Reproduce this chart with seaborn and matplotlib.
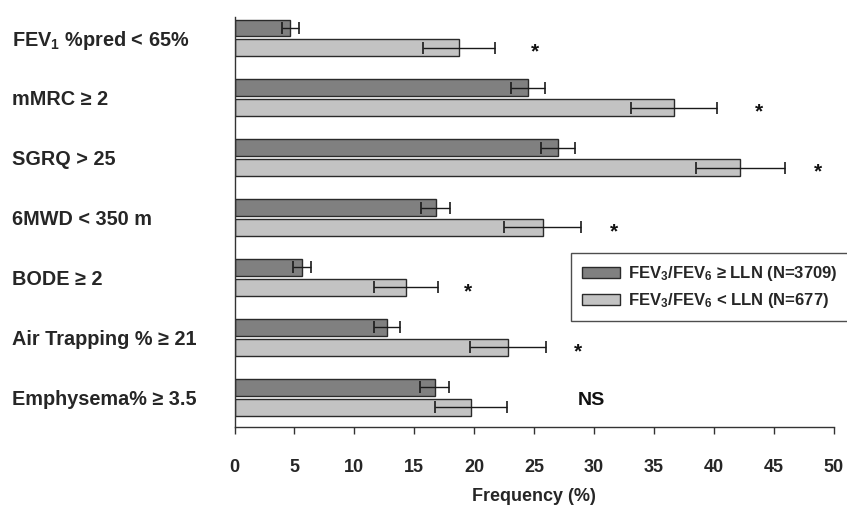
import matplotlib
matplotlib.use("Agg")
import matplotlib.pyplot as plt
from matplotlib.patches import Patch
import seaborn as sns
import pandas as pd
import numpy as np

categories = ["FEV$_1$ %pred < 65%", "mMRC ≥ 2", "SGRQ > 25", "6MWD < 350 m",
              "BODE ≥ 2", "Air Trapping % ≥ 21", "Emphysema% ≥ 3.5"]
groups = ["FEV$_3$/FEV$_6$ ≥ LLN (N=3709)", "FEV$_3$/FEV$_6$ < LLN (N=677)"]
normal_vals = [4.65, 24.5, 27.0, 16.8, 5.6, 12.7, 16.7]
normal_err = [0.7, 1.4, 1.45, 1.2, 0.75, 1.1, 1.2]
low_vals = [18.7, 36.7, 42.2, 25.7, 14.3, 22.8, 19.7]
low_err = [3.0, 3.6, 3.7, 3.25, 2.7, 3.15, 3.0]
annotations = ["*", "*", "*", "*", "*", "*", "NS"]
annot_x = [25.1, 43.8, 48.7, 31.7, 19.5, 28.7, 29.8]

sns.set_theme(style="ticks")
plt.rcParams["font.family"] = ["Liberation Sans", "DejaVu Sans"]
plt.rcParams["mathtext.fontset"] = "custom"
plt.rcParams["mathtext.rm"] = "Liberation Sans:bold"
plt.rcParams["mathtext.it"] = "Liberation Sans:bold"
plt.rcParams["mathtext.bf"] = "Liberation Sans:bold"

df = pd.DataFrame({
    "category": categories * 2,
    "group": [groups[0]] * len(categories) + [groups[1]] * len(categories),
    "value": normal_vals + low_vals,
})
errs = {groups[0]: normal_err, groups[1]: low_err}

colors = ["#808080", "#c3c3c3"]

fig = plt.figure(figsize=(8.47, 5.05), dpi=100)
ax = fig.add_axes([0.2769, 0.1545, 0.9843 - 0.2769, 0.9663 - 0.1545])

sns.barplot(data=df, y="category", x="value", hue="group", order=categories,
            hue_order=groups, palette=colors, orient="h", width=0.667, gap=0.15,
            edgecolor="#2a2a2a", linewidth=1.0, errorbar=None, legend=False, ax=ax)

# error bars located from the bars drawn by seaborn
for p in ax.patches:
    yc = p.get_y() + p.get_height() / 2
    ci = int(round(yc))
    g = groups[0] if yc < ci else groups[1]
    ax.errorbar(p.get_x() + p.get_width(), yc, xerr=errs[g][ci], fmt="none",
                ecolor="#1a1a1a", elinewidth=1.0, capsize=4, capthick=1.2)

for i, (txt, xa) in enumerate(zip(annotations, annot_x)):
    if txt == "NS":
        ax.text(xa, i + 0.05, txt, ha="center", va="center", fontsize=14,
                fontweight="bold", color="#111111")
    else:
        ax.text(xa, i + 0.24, txt, ha="center", va="center", fontsize=15,
                fontweight="bold", color="#111111")

ax.set_xlim(0, 50)
ax.set_ylim(6.5, -0.35)
ax.set_xticks(np.arange(0, 51, 5))
ax.tick_params(axis="x", length=5, width=1, pad=18, labelsize=13, color="#333333")
for lab in ax.get_xticklabels():
    lab.set_fontweight("bold")
ax.tick_params(axis="y", length=0, pad=160, labelsize=14.3)
for lab in ax.get_yticklabels():
    lab.set_fontweight("bold")
    lab.set_horizontalalignment("left")
ax.set_ylabel("")
ax.set_xlabel("Frequency (%)", fontsize=13, fontweight="bold", labelpad=9)
sns.despine(ax=ax)
for s in ["left", "bottom"]:
    ax.spines[s].set_color("#333333")
    ax.spines[s].set_linewidth(1.0)

handles = [Patch(facecolor=c, edgecolor="#2a2a2a", linewidth=1.0) for c in colors]
leg = ax.legend(handles, groups, loc="upper left", bbox_to_anchor=(0.561, 0.424),
                frameon=True, fancybox=False, handlelength=2.3,
                handleheight=0.65, handletextpad=0.5, borderpad=0.65,
                labelspacing=0.5, borderaxespad=0,
                prop={"weight": "bold", "size": 12})
leg.get_frame().set_edgecolor("#222222")
leg.get_frame().set_linewidth(1.0)

fig.savefig("out.png", dpi=100)
